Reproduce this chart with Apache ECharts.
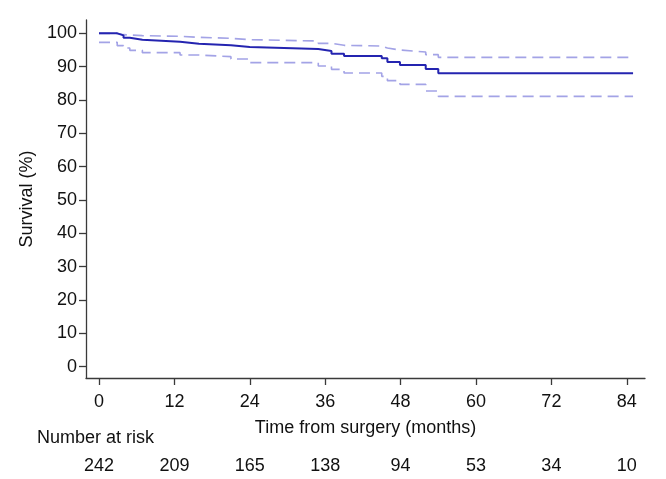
<!DOCTYPE html>
<html>
<head>
<meta charset="utf-8">
<script src="https://cdn.jsdelivr.net/npm/echarts@6/dist/echarts.min.js"></script>
<style>
html,body{margin:0;padding:0;background:#fff;}
#chart{width:666px;height:479px;}
</style>
</head>
<body>
<div id="chart"></div>
<script>
// Data
var times = [0, 2.9, 3.9, 4.9, 6.9, 12.9, 15.9, 21, 24, 34.9, 37, 39, 45, 45.9, 47.9, 52, 54, 85];
var survival = [100, 99.4, 98.7, 98.1, 97.5, 96.9, 96.4, 95.9, 95.3, 94.7, 93.9, 93.2, 92.5, 91.4, 90.5, 89.3, 88.0, 88.0];
var upperCI = [100, 99.6, 99.5, 99.3, 99.1, 98.8, 98.5, 98.1, 97.7, 97.0, 96.4, 96.2, 95.6, 95.0, 94.4, 93.6, 92.8, 92.8];
var lowerCI = [97.3, 96.3, 95.6, 94.9, 94.2, 93.5, 93.0, 92.3, 91.2, 90.2, 89.2, 88.1, 87.1, 85.8, 84.7, 82.7, 81.1, 81.1];
var xTicks = [0, 12, 24, 36, 48, 60, 72, 84];
var yTicks = [0, 10, 20, 30, 40, 50, 60, 70, 80, 90, 100];
var atRisk = [242, 209, 165, 138, 94, 53, 34, 10];

function pairs(xs, ys) { return xs.map(function (x, i) { return [x, ys[i]]; }); }

var FONT = '"Liberation Sans", Arial, sans-serif';
var FS = 18;
var TXT = '#111111';
var AX = '#3a3a3a';

var chart = echarts.init(document.getElementById('chart'), null, {renderer: 'canvas'});
chart.setOption({
  animation: false,
  backgroundColor: '#ffffff',
  textStyle: {fontFamily: FONT},
  grid: {left: 86, right: 21, top: 20, bottom: 101, containLabel: false, outerBoundsMode: 'none'},
  xAxis: [{
    type: 'value', min: -2.07, max: 86.9,
    name: 'Time from surgery (months)', nameLocation: 'middle', nameGap: 41,
    nameTextStyle: {fontSize: FS, color: TXT, fontFamily: FONT},
    axisLine: {show: true, onZero: false, lineStyle: {color: AX, width: 1.3}},
    axisTick: {show: true, inside: false, length: 7, customValues: xTicks, lineStyle: {color: AX, width: 1.3}},
    axisLabel: {show: true, margin: 15, fontSize: FS, color: TXT, fontFamily: FONT, customValues: xTicks},
    splitLine: {show: false}
  }, {
    type: 'value', min: -2.07, max: 86.9, position: 'bottom', offset: 64,
    axisLine: {show: false}, axisTick: {show: false}, splitLine: {show: false},
    axisLabel: {show: true, margin: 15, fontSize: FS, color: TXT, fontFamily: FONT, customValues: xTicks,
      formatter: function (v) { var i = xTicks.indexOf(Math.round(v)); return i >= 0 ? String(atRisk[i]) : ''; }}
  }],
  yAxis: {
    type: 'value', min: -3.4, max: 104,
    name: 'Survival (%)', nameLocation: 'middle', nameGap: 48,
    nameTextStyle: {fontSize: FS, color: TXT, fontFamily: FONT},
    axisLine: {show: true, onZero: false, lineStyle: {color: AX, width: 1.3}},
    axisTick: {show: true, inside: false, length: 7, customValues: yTicks, lineStyle: {color: AX, width: 1.3}},
    axisLabel: {show: true, margin: 9, fontSize: FS, color: TXT, fontFamily: FONT, customValues: yTicks},
    splitLine: {show: false}
  },
  series: [{
    type: 'line', step: 'end', data: pairs(times, upperCI), showSymbol: false, silent: true,
    lineStyle: {color: '#a3a3e6', width: 1.6, type: [11, 6]}, z: 2
  }, {
    type: 'line', step: 'end', data: pairs(times, lowerCI), showSymbol: false, silent: true,
    lineStyle: {color: '#a3a3e6', width: 1.6, type: [11, 6]}, z: 2
  }, {
    type: 'line', step: 'end', data: pairs(times, survival), showSymbol: false, silent: true,
    lineStyle: {color: '#2424b0', width: 2}, z: 3
  }],
  graphic: [{
    type: 'text', left: 37, top: 429,
    style: {text: 'Number at risk', fontSize: FS, fill: TXT, font: FS + 'px ' + FONT}
  }]
});
</script>
</body>
</html>
